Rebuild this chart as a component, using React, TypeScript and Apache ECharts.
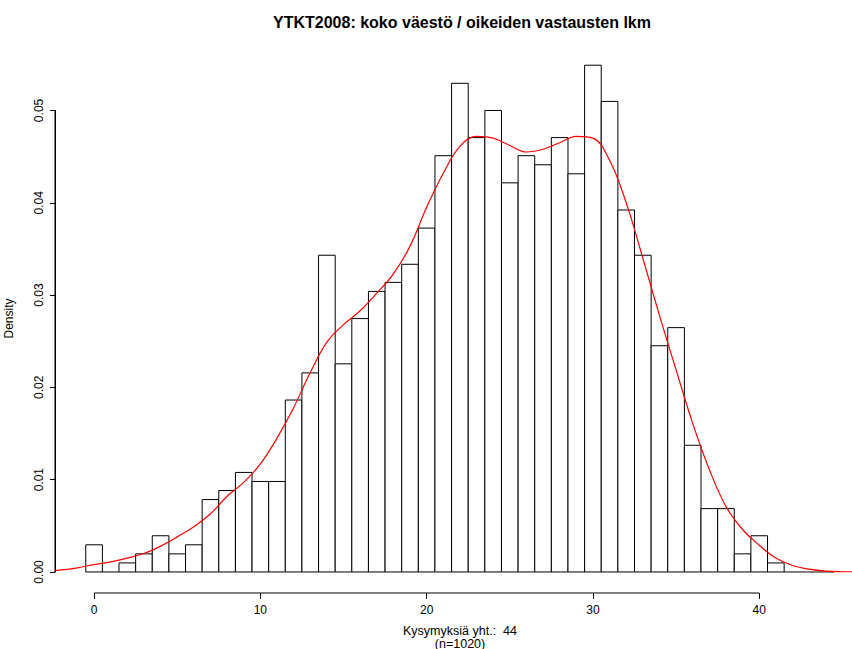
import React, { useEffect, useRef } from "react";
import * as echarts from "echarts";

// Histogram: counts per integer score (bins centred on 0..44), n = 1020
const binCenters = [0,1,2,3,4,5,6,7,8,9,10,11,12,13,14,15,16,17,18,19,20,21,22,23,24,25,26,27,28,29,30,31,32,33,34,35,36,37,38,39,40,41,42,43,44];
const counts = [3,0,1,2,4,2,3,8,9,11,10,10,19,22,35,23,28,31,32,34,38,46,54,48,51,43,46,45,48,44,56,52,40,35,25,27,14,7,7,2,4,1,0,0,0];
const N = 1020;

// Kernel density curve
const densX = [-2.35,-1,0,1,2,3,4,5,6,7,8,9,10,11,12,13,14,15,16,17,18,19,20,21,22,23,24,25,26,27,28,29,30,31,32,33,34,35,36,37,38,39,40,41,42,43,44,45.58];
const densY = [0.00015,0.00045,0.0008,0.0011,0.0015,0.002,0.0028,0.0038,0.0049,0.0063,0.0082,0.0097,0.0117,0.0145,0.0178,0.0216,0.0249,0.0268,0.0283,0.0302,0.0323,0.0353,0.0395,0.0432,0.0461,0.0472,0.047,0.0462,0.0455,0.0458,0.0465,0.0472,0.047,0.0446,0.04,0.034,0.0278,0.0219,0.0161,0.0111,0.0071,0.0046,0.0029,0.0015,0.0007,0.0003,0.0001,0.00002];

const xTicks = [0, 10, 20, 30, 40];
const yTicks = [0, 0.01, 0.02, 0.03, 0.04, 0.05];

const titleText = "YTKT2008: koko väestö / oikeiden vastausten lkm";
const xTitle1 = "Kysymyksiä yht.:\u00a0 44";
const xTitle2 = "(n=1020)";
const yTitle = "Density";

// plot-region limits (R usr)
const X_MIN = -2.35;
const X_MAX = 45.58;
const Y_MIN = -0.00228;
const Y_MAX = 0.0572;

const FONT = "Liberation Sans, Arial, Helvetica, sans-serif";

const GRID_LEFT = 55;
const GRID_TOP = 44;
const GRID_BOTTOM = 56;
const CHART_H = 649;

export default function App() {
  const ref = useRef<HTMLDivElement>(null);
  useEffect(() => {
    document.body.style.margin = "0";
    if (!ref.current) return;
    const chart = echarts.init(ref.current, null, { renderer: "svg" });
    const histData = binCenters.map((c, i) => [c, counts[i] / N]);
    const densData = densX.map((x, i) => [x, densY[i]]);
    const axisSegments = [
      [xTicks[0], Y_MIN, xTicks[xTicks.length - 1], Y_MIN],
      [X_MIN, yTicks[0], X_MIN, yTicks[yTicks.length - 1]],
    ];
    // second grid spans exactly the tick range of the y axis (R draws its axis line only there)
    const pxPerY = (CHART_H - GRID_TOP - GRID_BOTTOM) / (Y_MAX - Y_MIN);
    const yLo = yTicks[0];
    const yHi = yTicks[yTicks.length - 1];
    const grid2Top = GRID_TOP + (Y_MAX - yHi) * pxPerY;
    const grid2Bottom = GRID_BOTTOM + (yLo - Y_MIN) * pxPerY;
    chart.setOption({
      animation: false,
      backgroundColor: "#fff",
      textStyle: { fontFamily: FONT },
      grid: [
        {
          left: GRID_LEFT,
          right: 0,
          top: GRID_TOP,
          bottom: GRID_BOTTOM,
          containLabel: false,
          outerBoundsMode: "none",
        },
        {
          left: GRID_LEFT,
          right: 0,
          top: grid2Top,
          bottom: grid2Bottom,
          containLabel: false,
          outerBoundsMode: "none",
        },
      ],
      xAxis: [
        {
          type: "value",
          gridIndex: 0,
          min: X_MIN,
          max: X_MAX,
          axisLine: { show: false, onZero: false },
          splitLine: { show: false },
          axisTick: {
            show: true,
            customValues: xTicks,
            length: 6,
            inside: false,
            lineStyle: { color: "#000", width: 1 },
          },
          axisLabel: {
            customValues: xTicks,
            color: "#000",
            fontSize: 12,
            fontFamily: FONT,
            margin: 11,
            formatter: (v: number) => String(v),
          },
        },
        {
          type: "value",
          gridIndex: 1,
          min: X_MIN,
          max: X_MAX,
          show: false,
        },
      ],
      yAxis: [
        {
          type: "value",
          gridIndex: 0,
          min: Y_MIN,
          max: Y_MAX,
          name: yTitle,
          nameLocation: "middle",
          nameGap: 40,
          nameRotate: 90,
          nameTextStyle: { color: "#000", fontSize: 12, fontFamily: FONT },
          axisLine: { show: false, onZero: false },
          splitLine: { show: false },
          axisTick: { show: false },
          axisLabel: { show: false },
        },
        {
          type: "value",
          gridIndex: 1,
          position: "left",
          min: yLo,
          max: yHi,
          interval: 0.01,
          axisLine: { show: true, onZero: false, lineStyle: { color: "#000", width: 1 } },
          splitLine: { show: false },
          axisTick: {
            show: true,
            length: 5,
            inside: false,
            lineStyle: { color: "#000", width: 1 },
          },
          axisLabel: {
            rotate: 90,
            color: "#000",
            fontSize: 12,
            fontFamily: FONT,
            margin: 10,
            formatter: (v: number) => v.toFixed(2),
          },
        },
      ],
      graphic: [
        {
          type: "text",
          x: 462,
          y: 22,
          style: {
            text: titleText,
            font: `bold 16px ${FONT}`,
            fill: "#000",
            textAlign: "center",
            textVerticalAlign: "middle",
          },
        },
        {
          type: "text",
          x: 460,
          y: 631,
          style: {
            text: xTitle1,
            font: `12.5px ${FONT}`,
            fill: "#000",
            textAlign: "center",
            textVerticalAlign: "middle",
          },
        },
        {
          type: "text",
          x: 460,
          y: 644,
          style: {
            text: xTitle2,
            font: `12.5px ${FONT}`,
            fill: "#000",
            textAlign: "center",
            textVerticalAlign: "middle",
          },
        },
      ],
      series: [
        {
          type: "custom",
          name: "hist",
          xAxisIndex: 0,
          yAxisIndex: 0,
          data: histData,
          clip: false,
          renderItem: (params: any, api: any) => {
            const c = api.value(0);
            const d = api.value(1);
            const p0 = api.coord([c - 0.5, d]);
            const p1 = api.coord([c + 0.5, 0]);
            if (d <= 0) {
              return {
                type: "line",
                shape: { x1: p0[0], y1: p1[1], x2: p1[0], y2: p1[1] },
                style: { stroke: "#000", lineWidth: 1 },
              };
            }
            return {
              type: "rect",
              shape: { x: p0[0], y: p0[1], width: p1[0] - p0[0], height: p1[1] - p0[1] },
              style: { fill: "#fff", stroke: "#000", lineWidth: 1 },
            };
          },
        },
        {
          type: "line",
          name: "density",
          xAxisIndex: 0,
          yAxisIndex: 0,
          data: densData,
          smooth: 0.4,
          showSymbol: false,
          lineStyle: { color: "#ff0000", width: 1.2 },
          z: 5,
        },
        {
          type: "custom",
          name: "axislines",
          xAxisIndex: 0,
          yAxisIndex: 0,
          data: axisSegments,
          clip: false,
          silent: true,
          z: 10,
          renderItem: (params: any, api: any) => {
            const a = api.coord([api.value(0), api.value(1)]);
            const b = api.coord([api.value(2), api.value(3)]);
            return {
              type: "line",
              shape: { x1: a[0], y1: a[1], x2: b[0], y2: b[1] },
              style: { stroke: "#000", lineWidth: 1 },
            };
          },
        },
        {
          type: "line",
          name: "yaxisholder",
          xAxisIndex: 1,
          yAxisIndex: 1,
          data: [],
          showSymbol: false,
        },
      ],
    });
    return () => chart.dispose();
  }, []);
  return <div ref={ref} style={{ width: 852, height: 649 }} />;
}
